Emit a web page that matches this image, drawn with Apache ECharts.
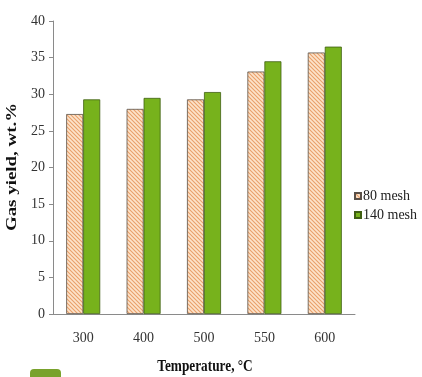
<!DOCTYPE html>
<html>
<head>
<meta charset="utf-8">
<script src="https://cdn.jsdelivr.net/npm/echarts@6/dist/echarts.min.js"></script>
<style>
  html, body { margin: 0; padding: 0; background: #ffffff; }
  #chart { width: 422px; height: 377px; }
</style>
</head>
<body>
<div id="chart"></div>
<script>
// Gas yield by pyrolysis temperature for two particle sizes
const temperatures = ['300', '400', '500', '550', '600'];
const mesh80 = [27.3, 28.0, 29.3, 33.1, 35.7];
const mesh140 = [29.3, 29.5, 30.3, 34.5, 36.5];
const seriesNames = ['80 mesh', '140 mesh'];
const yTicks = { min: 0, max: 40, step: 5 };

// Diagonal hatch tile for the 80 mesh bars
function hatchPattern() {
  const c = document.createElement('canvas');
  c.width = 4; c.height = 4;
  const ctx = c.getContext('2d');
  ctx.fillStyle = '#fde4cb';
  ctx.fillRect(0, 0, 4, 4);
  ctx.strokeStyle = '#e9a06a';
  ctx.lineWidth = 1.1;
  ctx.beginPath();
  ctx.moveTo(0, 0); ctx.lineTo(4, 4);
  ctx.moveTo(-1, 3); ctx.lineTo(1, 5);
  ctx.moveTo(3, -1); ctx.lineTo(5, 1);
  ctx.stroke();
  return c;
}

const serif = '"Liberation Serif", "DejaVu Serif", serif';
const chart = echarts.init(document.getElementById('chart'), null, { renderer: 'canvas' });

chart.setOption({
  animation: false,
  backgroundColor: '#ffffff',
  grid: { left: 53, right: 67, top: 21, bottom: 63, containLabel: false },
  legend: {
    orient: 'vertical',
    left: 349,
    top: 184,
    icon: 'rect',
    itemWidth: 6,
    itemHeight: 6,
    itemGap: 5,
    textStyle: { fontFamily: serif, fontSize: 14, color: '#222', padding: [0, 0, 0, -3] },
    data: seriesNames
  },
  xAxis: {
    type: 'category',
    data: temperatures,
    axisLine: { lineStyle: { color: '#8a8a8a', width: 1 } },
    axisTick: { show: false },
    axisLabel: { fontFamily: serif, fontSize: 14, color: '#333', margin: 17 }
  },
  yAxis: {
    type: 'value',
    min: yTicks.min,
    max: yTicks.max,
    interval: yTicks.step,
    splitLine: { show: false },
    axisLine: { show: true, lineStyle: { color: '#8a8a8a', width: 1 } },
    axisTick: { show: true, length: 4, lineStyle: { color: '#8a8a8a' } },
    axisLabel: { fontFamily: serif, fontSize: 14, color: '#333', margin: 8 }
  },
  series: [
    {
      name: seriesNames[0],
      type: 'bar',
      data: mesh80,
      barWidth: 17,
      barGap: '0%',
      itemStyle: {
        color: { image: hatchPattern(), repeat: 'repeat' },
        borderColor: '#5a5048',
        borderWidth: 0.8
      }
    },
    {
      name: seriesNames[1],
      type: 'bar',
      data: mesh140,
      barWidth: 17,
      barGap: '0%',
      itemStyle: {
        color: '#77b21c',
        borderColor: '#3f5f12',
        borderWidth: 0.8
      }
    }
  ],
  graphic: [
    {
      type: 'text',
      x: 12,
      y: 167,
      rotation: Math.PI / 2,
      scaleX: 1.35,
      style: {
        text: 'Gas yield, wt.%',
        font: 'bold 14px ' + serif,
        fill: '#111',
        align: 'center',
        verticalAlign: 'middle'
      }
    },
    {
      type: 'text',
      x: 205,
      y: 366,
      scaleY: 1.25,
      scaleX: 0.95,
      style: {
        text: 'Temperature, °C',
        font: 'bold 14px ' + serif,
        fill: '#111',
        align: 'center',
        verticalAlign: 'middle'
      }
    },
    {
      type: 'rect',
      shape: { x: 30, y: 369, width: 31, height: 14, r: 4 },
      style: { fill: '#79a22c' }
    }
  ]
});
</script>
</body>
</html>
